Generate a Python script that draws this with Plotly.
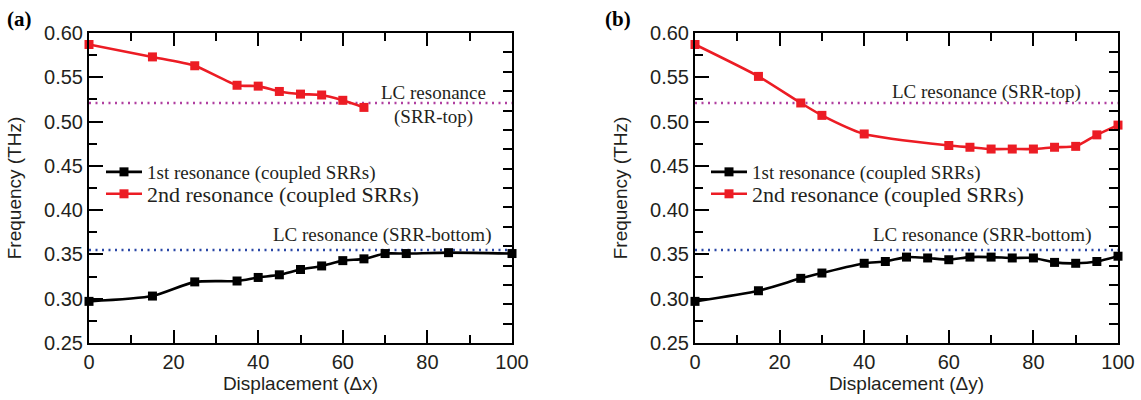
import plotly.graph_objects as go

# ---------------- data ----------------
x_a_red = [0, 15, 25, 35, 40, 45, 50, 55, 60, 65]
y_a_red = [0.587, 0.573, 0.563, 0.541, 0.540, 0.534, 0.531, 0.530, 0.524, 0.516]
x_a_blk = [0, 15, 25, 35, 40, 45, 50, 55, 60, 65, 70, 75, 85, 100]
y_a_blk = [0.297, 0.303, 0.319, 0.320, 0.324, 0.327, 0.333, 0.337, 0.343, 0.345, 0.351, 0.351, 0.352, 0.351]

x_b_red = [0, 15, 25, 30, 40, 60, 65, 70, 75, 80, 85, 90, 95, 100]
y_b_red = [0.587, 0.551, 0.521, 0.507, 0.486, 0.473, 0.471, 0.469, 0.469, 0.469, 0.471, 0.472, 0.485, 0.496]
x_b_blk = [0, 15, 25, 30, 40, 45, 50, 55, 60, 65, 70, 75, 80, 85, 90, 95, 100]
y_b_blk = [0.297, 0.309, 0.323, 0.329, 0.340, 0.342, 0.347, 0.346, 0.344, 0.347, 0.347, 0.346, 0.346, 0.341, 0.340, 0.342, 0.348]

lc_x = [0, 100]
lc_top = [0.521, 0.521]
lc_bottom = [0.355, 0.355]

name1 = "1st resonance (coupled SRRs)"
name2 = "2nd resonance (coupled SRRs)"
x_titles = ["Displacement (Δx)", "Displacement (Δy)"]
panel_labels = ["(a)", "(b)"]

# ---------------- layout geometry ----------------
W, H = 1141, 400
def px_x(p): return p / W
def px_y(p): return 1 - p / H

dom_a = [px_x(89), px_x(512)]
dom_b = [px_x(695), px_x(1118)]
dom_y = [px_y(343), px_y(33)]

RED = "#ec1c24"
BLK = "#000000"
MAG = "#b03fa0"
BLU = "#2a47a6"
TXT = "#231f20"
SERIF = "Liberation Serif"
SANS = "Liberation Sans"

fig = go.Figure()

panels = [
    ("x", "y", x_a_red, y_a_red, x_a_blk, y_a_blk, ("legend", "legend2")),
    ("x2", "y2", x_b_red, y_b_red, x_b_blk, y_b_blk, ("legend3", "legend4")),
]
for xa, ya, xr, yr, xb, yb, legs in panels:
    fig.add_trace(go.Scatter(x=lc_x, y=lc_top, mode="lines", xaxis=xa, yaxis=ya,
                             line=dict(color=MAG, width=2.4, dash="2px,4.5px"),
                             showlegend=False, hoverinfo="skip"))
    fig.add_trace(go.Scatter(x=lc_x, y=lc_bottom, mode="lines", xaxis=xa, yaxis=ya,
                             line=dict(color=BLU, width=2.4, dash="2px,4.5px"),
                             showlegend=False, hoverinfo="skip"))
    fig.add_trace(go.Scatter(x=xb, y=yb, mode="lines+markers", name=name1, xaxis=xa, yaxis=ya,
                             line=dict(color=BLK, width=2.6, shape="spline", smoothing=0.6),
                             marker=dict(symbol="square", size=9, color=BLK),
                             cliponaxis=False, legend=legs[0]))
    fig.add_trace(go.Scatter(x=xr, y=yr, mode="lines+markers", name=name2, xaxis=xa, yaxis=ya,
                             line=dict(color=RED, width=2.6, shape="spline", smoothing=0.6),
                             marker=dict(symbol="square", size=9, color=RED),
                             cliponaxis=False, legend=legs[1]))

# dummy traces so the overlay right-side axes exist
fig.add_trace(go.Scatter(x=[None], y=[None], xaxis="x", yaxis="y3", showlegend=False, hoverinfo="skip"))
fig.add_trace(go.Scatter(x=[None], y=[None], xaxis="x2", yaxis="y4", showlegend=False, hoverinfo="skip"))

def xaxis_cfg(dom, anchor, title):
    return dict(domain=dom, anchor=anchor, range=[0, 100], dtick=20, tick0=0,
                showline=True, linecolor=BLK, linewidth=2, mirror="ticks",
                ticks="inside", ticklen=13, tickwidth=2, tickcolor=BLK,
                minor=dict(dtick=10, ticks="inside", ticklen=8, tickwidth=2, tickcolor=BLK),
                showgrid=False, zeroline=False,
                tickfont=dict(family=SANS, size=20, color=TXT),
                title=dict(text=title, font=dict(family=SANS, size=19, color=TXT), standoff=3),
                automargin=False)

def yaxis_cfg(anchor):
    return dict(domain=dom_y, anchor=anchor, range=[0.25, 0.60], dtick=0.05, tick0=0.25,
                tickformat=".2f",
                showline=True, linecolor=BLK, linewidth=2, mirror=False,
                ticks="inside", ticklen=14, tickwidth=2, tickcolor=BLK,
                minor=dict(dtick=0.025, ticks="inside", ticklen=8, tickwidth=2, tickcolor=BLK),
                showgrid=False, zeroline=False,
                tickfont=dict(family=SANS, size=20, color=TXT),
                title=dict(text="Frequency (THz)", font=dict(family=SANS, size=19, color=TXT), standoff=17),
                automargin=False)

def yright_cfg(overlay, anchor):
    return dict(overlaying=overlay, anchor=anchor, side="right", range=[0, 16], dtick=1,
                showline=True, linecolor=BLK, linewidth=2,
                ticks="inside", ticklen=9, tickwidth=2, tickcolor=BLK,
                showticklabels=False, showgrid=False, zeroline=False)

leg_common = dict(bgcolor="rgba(0,0,0,0)", borderwidth=0, xanchor="left", yanchor="middle",
                  itemwidth=36, tracegroupgap=0)

fig.update_layout(
    width=W, height=H,
    margin=dict(l=0, r=0, t=0, b=0),
    paper_bgcolor="white", plot_bgcolor="white",
    xaxis=xaxis_cfg(dom_a, "y", x_titles[0]),
    yaxis=yaxis_cfg("x"),
    xaxis2=xaxis_cfg(dom_b, "y2", x_titles[1]),
    yaxis2=yaxis_cfg("x2"),
    yaxis3=yright_cfg("y", "x"),
    yaxis4=yright_cfg("y2", "x2"),
    legend=dict(x=px_x(101), y=px_y(172), font=dict(family=SERIF, size=19, color=TXT), **leg_common),
    legend2=dict(x=px_x(101), y=px_y(194), font=dict(family=SERIF, size=22, color=TXT), **leg_common),
    legend3=dict(x=px_x(706), y=px_y(172), font=dict(family=SERIF, size=19, color=TXT), **leg_common),
    legend4=dict(x=px_x(706), y=px_y(194), font=dict(family=SERIF, size=22, color=TXT), **leg_common),
    showlegend=True,
)

annots = [
    dict(text="LC resonance", x=433, y=92, size=19),
    dict(text="(SRR-top)", x=433, y=117, size=19),
    dict(text="LC resonance (SRR-bottom)", x=382, y=235, size=19),
    dict(text="LC resonance (SRR-top)", x=986, y=92, size=19),
    dict(text="LC resonance (SRR-bottom)", x=982, y=235, size=19),
]
for a in annots:
    fig.add_annotation(text=a["text"], x=px_x(a["x"]), y=px_y(a["y"]), xref="paper", yref="paper",
                       xanchor="center", yanchor="middle", showarrow=False,
                       font=dict(family=SERIF, size=a["size"], color=TXT))

for lab, xp in zip(panel_labels, [5, 603]):
    fig.add_annotation(text="<b>" + lab + "</b>", x=px_x(xp), y=px_y(19), xref="paper", yref="paper",
                       xanchor="left", yanchor="middle", showarrow=False,
                       font=dict(family=SERIF, size=21, color=BLK))

fig.write_html("out.html")
